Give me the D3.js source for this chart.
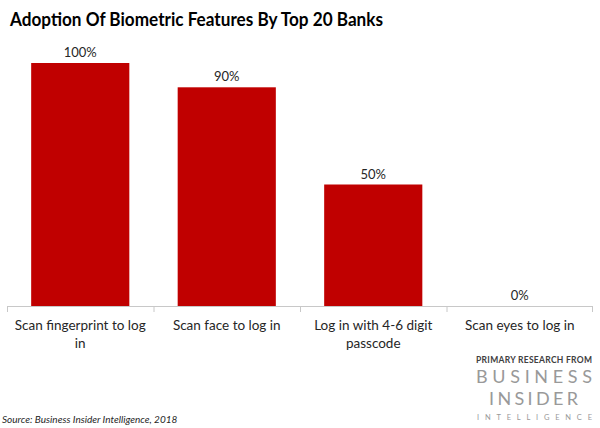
<!DOCTYPE html>
<html lang="en">
  <head>
    <meta charset="UTF-8" />
    <title>Adoption Of Biometric Features</title>
    <script src="https://d3js.org/d3.v7.min.js"></script>
    <style>
      body { margin: 0; background: #fff; }
      svg { display: block; }
    </style>
  </head>
  <body>
    <svg width="600" height="428"></svg>
    <script>
      // chart data
      const categories = [
        ["Scan fingerprint to log", "in"],
        ["Scan face to log in"],
        ["Log in with 4-6 digit", "passcode"],
        ["Scan eyes to log in"]
      ];
      const values = [100, 90, 50, 0];
      const valueLabels = ["100%", "90%", "50%", "0%"];

      const svg = d3.select("svg");
      const font = "Lato, 'Open Sans', sans-serif";

      // scales
      const x = d3.scaleBand()
        .domain(d3.range(values.length))
        .range([7, 593])
        .paddingInner(0.33)
        .paddingOuter(0.165);
      const y = d3.scaleLinear().domain([0, 100]).range([306, 63]);

      // title
      svg.append("text")
        .attr("x", 10)
        .attr("y", 26)
        .attr("font-family", font)
        .attr("font-weight", "bold")
        .attr("font-size", "19px")
        .attr("fill", "#000")
        .attr("textLength", 373)
        .attr("lengthAdjust", "spacingAndGlyphs")
        .text("Adoption Of Biometric Features By Top 20 Banks");

      // bars
      svg.append("g")
        .selectAll("rect")
        .data(values)
        .join("rect")
        .attr("x", (d, i) => x(i))
        .attr("y", d => y(d))
        .attr("width", x.bandwidth())
        .attr("height", d => y(0) - y(d))
        .attr("fill", "#c00000");

      // value labels
      svg.append("g")
        .selectAll("text")
        .data(values)
        .join("text")
        .attr("x", (d, i) => x(i) + x.bandwidth() / 2)
        .attr("y", d => y(d) - 6)
        .attr("text-anchor", "middle")
        .attr("font-family", font)
        .attr("font-size", "13px")
        .attr("fill", "#262626")
        .text((d, i) => valueLabels[i]);

      // axis line with tick marks between categories
      const axisG = svg.append("g");
      axisG.append("line")
        .attr("x1", 7).attr("x2", 593)
        .attr("y1", 306.5).attr("y2", 306.5)
        .attr("stroke", "#c8c8c8");
      const step = x.step();
      axisG.selectAll("line.tick")
        .data(d3.range(values.length + 1))
        .join("line")
        .attr("class", "tick")
        .attr("x1", i => 7.5 + i * step - (i === values.length ? 1 : 0))
        .attr("x2", i => 7.5 + i * step - (i === values.length ? 1 : 0))
        .attr("y1", 306).attr("y2", 312)
        .attr("stroke", "#c8c8c8");

      // category labels
      svg.append("g")
        .selectAll("text")
        .data(categories)
        .join("text")
        .attr("text-anchor", "middle")
        .attr("font-family", font)
        .attr("font-size", "13.5px")
        .attr("fill", "#262626")
        .each(function (lines, i) {
          const t = d3.select(this);
          lines.forEach((ln, j) => {
            t.append("tspan")
              .attr("x", x(i) + x.bandwidth() / 2)
              .attr("y", 330 + j * 18)
              .text(ln);
          });
        });

      // source
      svg.append("text")
        .attr("x", 2)
        .attr("y", 423)
        .attr("font-family", font)
        .attr("font-style", "italic")
        .attr("font-size", "10px")
        .attr("fill", "#262626")
        .text("Source: Business Insider Intelligence, 2018");

      // branding block
      const brand = svg.append("g").attr("font-family", font);
      const brandRows = [
        { text: "PRIMARY RESEARCH FROM", x: 476, y: 363, w: 116, size: 8.5, weight: "bold", fill: "#404040" },
        { text: "BUSINESS", x: 476, y: 383, w: 116, size: 18, weight: "normal", fill: "#999" },
        { text: "INSIDER", x: 489, y: 405, w: 89, size: 18, weight: "normal", fill: "#999" },
        { text: "INTELLIGENCE", x: 477, y: 420, w: 115, size: 7.5, weight: "normal", fill: "#999" }
      ];
      brand.selectAll("text")
        .data(brandRows)
        .join("text")
        .attr("x", d => d.x)
        .attr("y", d => d.y)
        .attr("font-size", d => d.size + "px")
        .attr("font-weight", d => d.weight)
        .attr("fill", d => d.fill)
        .attr("textLength", d => d.w)
        .attr("lengthAdjust", "spacing")
        .text(d => d.text);
    </script>
  </body>
</html>
